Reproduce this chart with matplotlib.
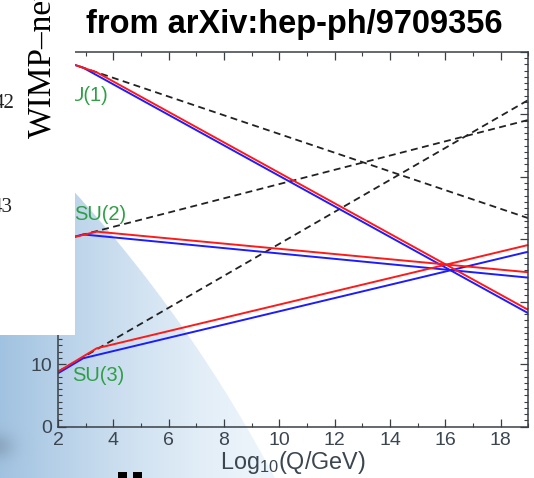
import numpy as np
import matplotlib
matplotlib.use('Agg')
import matplotlib.pyplot as plt
from matplotlib.patches import Rectangle
from matplotlib.ticker import MultipleLocator

plt.rcParams['font.family'] = ['Liberation Sans', 'DejaVu Sans']
plt.rcParams['mathtext.fontset'] = 'custom'
plt.rcParams['mathtext.rm'] = 'Liberation Sans'
plt.rcParams['mathtext.default'] = 'regular'
plt.rcParams['lines.scale_dashes'] = False

# running of inverse gauge couplings vs log10(Q/GeV)
q_lo, q_hi = 2, 19
q_kink_red = 3.40     # superpartner threshold, red curves
q_kink_blue = 2.91    # superpartner threshold, blue curves

# Standard Model (dashed): values at q_lo and q_hi
sm_u1 = [58.85, 33.37]
sm_su2 = [29.71, 49.12]
sm_su3 = [8.78, 52.32]

# MSSM: values at q_lo, threshold, q_hi
red_u1 = [58.85, 56.74, 18.67]
red_su2 = [29.71, 31.22, 24.71]
red_su3 = [8.78, 12.53, 29.09]
blue_u1 = [58.85, 57.48, 18.14]
blue_su2 = [29.71, 30.77, 23.85]
blue_su3 = [8.53, 10.93, 28.01]

group_names = ['U(1)', 'SU(2)', 'SU(3)']
group_label_pos = [(2.40, 53.1), (2.58, 34.0), (2.50, 8.2)]

W, H = 534, 478
fig = plt.figure(figsize=(W / 100, H / 100), dpi=100)

# slide background: big pale-blue disc coming in from the lower left,
# shaded darker towards the left edge
bg = fig.add_axes([0, 0, 1, 1], zorder=0)
bg.set_xlim(0, W)
bg.set_ylim(H, 0)
bg.axis('off')
yy, xx = np.mgrid[0:H, 0:W] + 0.5
cx, cy, rad = -963.0, 1132.0, 1400.0
d = np.hypot(xx - cx, yy - cy)
t = (np.clip((270.0 - xx) / 270.0, 0, 1) ** 1.4)[..., None]
light = np.array([0.93, 0.96, 0.985])
deep = np.array([0.63, 0.76, 0.88])
rgb = light + (deep - light) * t
inside = np.clip(rad - d + 0.5, 0, 1)[..., None]
rgb = rgb * inside + (1 - inside)
# dark smudge at the left edge
blob = np.exp(-((xx + 4) / 18.0) ** 2 - ((yy - 446) / 13.0) ** 2)[..., None]
rgb = rgb + (np.array([0.35, 0.40, 0.46]) - rgb) * 0.3 * blob
bg.imshow(rgb, extent=(0, W, H, 0), interpolation='bilinear')

# main plot
left, right = 58 / W, 528.4 / W
bottom, top = (H - 426.5) / H, (H - 52) / H
ax = fig.add_axes([left, bottom, right - left, top - bottom], zorder=1)
ax.patch.set_alpha(0)

x_sm = [q_lo, q_hi]
dash = dict(color='#222222', lw=1.3, dashes=(5, 3.2))
ax.plot(x_sm, sm_u1, **dash)
ax.plot(x_sm, sm_su2, **dash)
ax.plot(x_sm, sm_su3, **dash)

x_red = [q_lo, q_kink_red, q_hi]
x_blue = [q_lo, q_kink_blue, q_hi]
for yv in [blue_u1, blue_su2, blue_su3]:
    ax.plot(x_blue, yv, color='#1c1cff', lw=1.4)
for yv in [red_u1, red_su2, red_su3]:
    ax.plot(x_red, yv, color='#ff1a1a', lw=1.4)

for name, (gx, gy) in zip(group_names, group_label_pos):
    ax.text(gx, gy, name, color='#2f9f45', fontsize=14.5, va='center', ha='left')

ax.set_xlim(q_lo, q_hi)
ax.set_ylim(0, 60)
ax.xaxis.set_major_locator(MultipleLocator(2))
ax.xaxis.set_minor_locator(MultipleLocator(1))
ax.yaxis.set_major_locator(MultipleLocator(10))
ax.yaxis.set_minor_locator(MultipleLocator(1))
tick_col = '#3b4650'
ax.tick_params(which='both', direction='in', top=True, right=True,
               colors='#3a3f45', labelcolor=tick_col, labelsize=14, pad=4)
ax.tick_params(which='major', length=6, width=0.9)
ax.tick_params(which='minor', length=3, width=0.8)
for s in ax.spines.values():
    s.set_color('#3a3f45')
    s.set_linewidth(1.1)
ax.set_xlabel('Log$_{10}$(Q/GeV)', fontsize=16.8, color=tick_col, labelpad=0)

# slide overlay: white panel from the neighbouring figure, title, stray marks
ov = fig.add_axes([0, 0, 1, 1], zorder=2)
ov.set_xlim(0, W)
ov.set_ylim(H, 0)
ov.axis('off')
ov.patch.set_alpha(0)
ov.add_patch(Rectangle((0, 0), 75, 335, facecolor='white', edgecolor='none'))
ov.text(50, 138, 'WIMP\u2013neutron', rotation=90, rotation_mode='anchor',
        ha='left', va='baseline', fontsize=24, family='Liberation Serif',
        color='black')
ov.text(15, 103, '42', ha='right', va='center', fontsize=15,
        family='Liberation Serif', color='#222222')
ov.text(13, 208, '43', ha='right', va='center', fontsize=15,
        family='Liberation Serif', color='#222222')
ov.text(294, 24, 'from arXiv:hep-ph/9709356', ha='center', va='center',
        fontsize=23.5, fontweight='bold', color='black')
ov.add_patch(Rectangle((118, 471.5), 9, 7, facecolor='black', edgecolor='none'))
ov.add_patch(Rectangle((133, 471.5), 9, 7, facecolor='black', edgecolor='none'))

fig.savefig('out.png', dpi=100)
